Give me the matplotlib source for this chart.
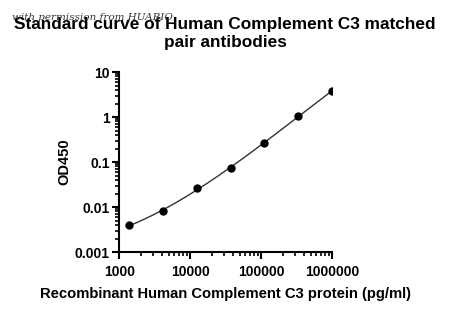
import matplotlib
matplotlib.use("Agg")
import matplotlib.pyplot as plt
from matplotlib.ticker import LogLocator, NullFormatter, FixedLocator
import numpy as np

plt.rcParams['font.family'] = ['Liberation Sans', 'DejaVu Sans']

# standard curve data (3-fold dilution series)
conc = [1372, 4115, 12346, 37037, 111111, 333333, 1000000]
od450 = [0.0039, 0.0081, 0.026, 0.075, 0.263, 1.05, 3.82]

xticks = [1000, 10000, 100000, 1000000]
xticklabels = ["1000", "10000", "100000", "1000000"]
yticks = [0.001, 0.01, 0.1, 1, 10]
yticklabels = ["0.001", "0.01", "0.1", "1", "10"]

title = "Standard curve of Human Complement C3 matched\npair antibodies"
xlabel = "Recombinant Human Complement C3 protein (pg/ml)"
ylabel = "OD450"
watermark = "with permission from HUABIO"

fig = plt.figure(figsize=(4.5, 3.12), dpi=100)
ax = fig.add_axes([0.265, 0.192, 0.473, 0.577])

# fitted curve in log-log space
lx = np.log10(conc)
ly = np.log10(od450)
coef = np.polyfit(lx, ly, 3)
xs = np.linspace(lx[0], lx[-1], 200)
ax.plot(10 ** xs, 10 ** np.polyval(coef, xs), color="#333333", lw=1.0)
ax.plot(conc, od450, "o", color="black", ms=5)

ax.set_xscale("log")
ax.set_yscale("log")
ax.set_xlim(1000, 1000000)
ax.set_ylim(0.001, 10)
ax.xaxis.set_major_locator(FixedLocator(xticks))
ax.set_xticklabels(xticklabels, fontweight="bold", fontsize=10)
ax.yaxis.set_major_locator(FixedLocator(yticks))
ax.set_yticklabels(yticklabels, fontweight="bold", fontsize=10)
ax.xaxis.set_minor_locator(LogLocator(base=10, subs=np.arange(2, 10)))
ax.yaxis.set_minor_locator(LogLocator(base=10, subs=np.arange(2, 10)))
ax.xaxis.set_minor_formatter(NullFormatter())
ax.yaxis.set_minor_formatter(NullFormatter())

for s in ["top", "right"]:
    ax.spines[s].set_visible(False)
for s in ["left", "bottom"]:
    ax.spines[s].set_linewidth(1.5)
ax.tick_params(which="major", length=5, width=1.5, pad=2)
ax.tick_params(which="minor", length=3, width=1.2)
ax.tick_params(axis="x", pad=4)

ax.set_xlabel(xlabel, fontweight="bold", fontsize=10.6, labelpad=6)
ax.set_ylabel(ylabel, fontweight="bold", fontsize=10.5, labelpad=2)

fig.text(0.5, 0.893, title, ha="center", va="center", fontweight="bold",
         fontsize=12.4, linespacing=1.3)
fig.text(0.027, 0.945, watermark, ha="left", va="center", style="italic",
         family="DejaVu Serif", fontsize=7.5, color="#333333")

fig.savefig("out.png", dpi=100)
